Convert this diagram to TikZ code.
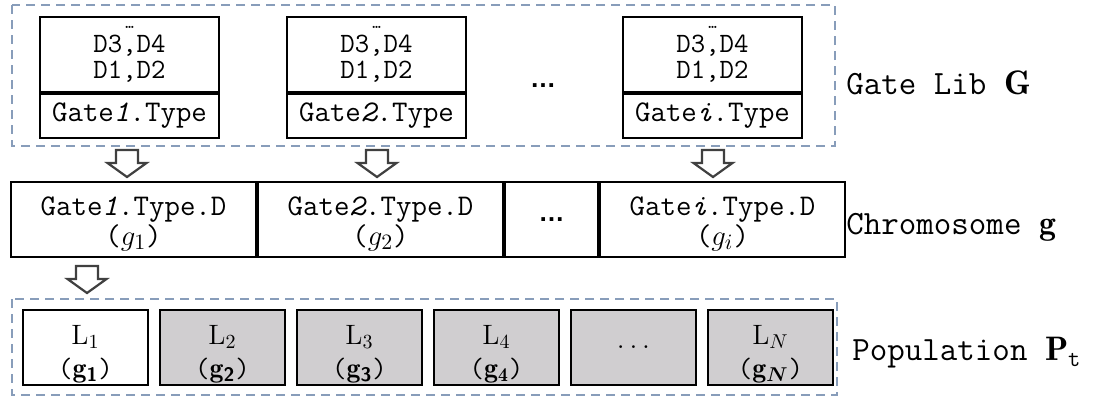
\documentclass[tikz,border=0pt]{standalone}
\usepackage{amsmath}
\usepackage{fontspec}
\newfontfamily\dotsfont{Liberation Sans}
\usetikzlibrary{positioning}

\definecolor{libline}{RGB}{136,157,186}
\definecolor{popfill}{RGB}{208,206,208}
\definecolor{arrowgray}{RGB}{64,64,64}

\tikzset{
  cell/.style={draw, rectangle, line width=1pt, inner sep=0pt, align=center},
  dlist/.style={cell, minimum width=89.5pt, minimum height=37.5pt},
  dtext/.style={inner sep=0pt, anchor=base, font=\ttfamily\fontsize{14}{12}\selectfont},
  tinydots/.style={inner sep=0pt, font=\ttfamily\fontsize{8}{8}\selectfont},
  gtype/.style={cell, minimum width=89.5pt, minimum height=22pt,
    font=\ttfamily\fontsize{15}{14}\selectfont},
  gene/.style={cell, minimum width=122.5pt, minimum height=37.5pt,
    font=\ttfamily\fontsize{15}{15}\selectfont},
  indiv/.style={cell, fill=popfill, minimum width=62.5pt, minimum height=37.5pt,
    font=\fontsize{14}{16.5}\selectfont},
  bigdots/.style={font=\dotsfont\bfseries\fontsize{13}{13}\selectfont},
  sidelabel/.style={anchor=west, inner sep=0pt, font=\ttfamily\fontsize{17}{19}\selectfont},
  dashframe/.style={draw=libline, line width=1pt, dash pattern=on 4.5pt off 3pt},
  hollowarrow/.pic={
    \draw[draw=arrowgray, line width=1.1pt, line join=miter, fill=white]
      (-11,0) -- (11,0) -- (11,13) -- (19.5,13) -- (0,27) -- (-19.5,13) -- (-11,13) -- cycle;
  }
}
\newcommand{\genetop}{\rule{0pt}{13.5pt}}
\newcommand{\indivtop}{\rule{0pt}{16pt}}

\begin{document}
\begin{tikzpicture}[x=0.5pt, y=-0.5pt]
\useasboundingbox (0,0) rectangle (1102,396);
% gate library
\draw[dashframe] (12,5) rectangle (835,146);
\foreach \g/\k/\x in {1/1/129.5, 2/2/376.5, 3/i/712.5} {
  \node[dlist] (dl\g) at (\x,54.5) {};
  \node[tinydots] (more\g) at (\x,27) {…};
  \node[dtext] (dda\g) at (\x,52) {D3,D4};
  \node[dtext] (ddb\g) at (\x,78) {D1,D2};
  \node[gtype, below=0pt of dl\g] (gt\g) {Gate\textit{\k}.Type};
}
\node[inner sep=0pt, bigdots] (gdots) at (543,86) {…};
\node[sidelabel] (liblabel) at (846,83) {Gate Lib $\mathbf{G}$};
% chromosome
\node[gene, anchor=west] (c1) at (10,219.5) {\genetop Gate\textit{1}.Type.D\\($g_1$)};
\node[gene, right=0pt of c1] (c2) {\genetop Gate\textit{2}.Type.D\\($g_2$)};
\node[cell, minimum width=46.5pt, minimum height=37.5pt, right=0pt of c2, bigdots] (cdots) {…};
\node[gene, right=0pt of cdots] (ci) {\genetop Gate\textit{i}.Type.D\\($g_i$)};
\node[sidelabel] (chromlabel) at (846,227) {Chromosome $\mathbf{g}$};
% arrows
\pic at (127,150) {hollowarrow};
\pic at (377,150) {hollowarrow};
\pic at (713,150) {hollowarrow};
\pic at (87,266) {hollowarrow};
% population
\draw[dashframe] (12,299) rectangle (837,395);
\node[indiv, fill=white, anchor=west] (p1) at (22,347.5) {\indivtop$\mathrm{L}_1$\\{\ttfamily(}$\mathbf{g}_{\textsf{\textbf{1}}}${\ttfamily)}};
\node[indiv, right=5pt of p1] (p2) {\indivtop$\mathrm{L}_2$\\{\ttfamily(}$\mathbf{g}_{\textsf{\textbf{2}}}${\ttfamily)}};
\node[indiv, right=5pt of p2] (p3) {\indivtop$\mathrm{L}_3$\\{\ttfamily(}$\mathbf{g}_{\textsf{\textbf{3}}}${\ttfamily)}};
\node[indiv, right=5pt of p3] (p4) {\indivtop$\mathrm{L}_4$\\{\ttfamily(}$\mathbf{g}_{\mathbf{4}}${\ttfamily)}};
\node[indiv, right=5pt of p4] (p5) {$\ldots$};
\node[indiv, right=5pt of p5] (pN) {\indivtop$\mathrm{L}_N$\\{\ttfamily(}$\mathbf{g}_{\boldsymbol{N}}${\ttfamily)}};
\node[sidelabel] (poplabel) at (852,353) {Population $\mathbf{P}_{\texttt{t}}$};
\end{tikzpicture}
\end{document}
